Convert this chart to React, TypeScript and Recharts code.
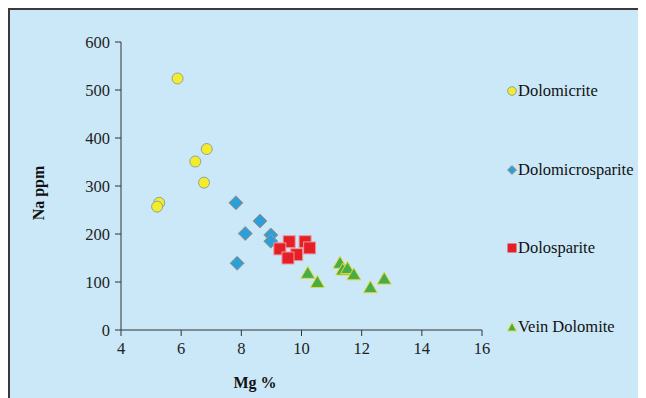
import React from 'react';
import { ScatterChart, Scatter, XAxis, YAxis, ZAxis } from 'recharts';

const dolomicriteMg = [5.88, 6.85, 6.47, 6.76, 5.27, 5.2];
const dolomicriteNa = [524, 377, 351, 307, 265, 257];

const microspariteMg = [7.82, 8.62, 8.13, 8.98, 8.98, 7.86];
const microspariteNa = [265, 227, 201, 198, 185, 139];

const dolospariteMg = [9.59, 10.12, 9.28, 10.27, 9.84, 9.55];
const dolospariteNa = [184, 184, 169, 171, 157, 150];

const veinMg = [11.28, 11.37, 11.53, 11.74, 10.21, 10.53, 12.29, 12.75];
const veinNa = [139, 125, 128, 115, 118, 99, 88, 106];

const xTicks = [4, 6, 8, 10, 12, 14, 16];
const yTicks = [0, 100, 200, 300, 400, 500, 600];

const toPoints = (mg: number[], na: number[]) => mg.map((m, i) => ({ mg: m, na: na[i] }));

const FONT = "'Liberation Serif', 'Times New Roman', Times, serif";

const circle = (fill: string, stroke: string) => (p: any) => (
  <circle cx={p.cx} cy={p.cy} r={5.5} fill={fill} stroke={stroke} strokeWidth={1} />
);
const diamond = (fill: string, stroke: string) => (p: any) => {
  const r = 7;
  return (
    <polygon
      points={`${p.cx},${p.cy - r} ${p.cx + r},${p.cy} ${p.cx},${p.cy + r} ${p.cx - r},${p.cy}`}
      fill={fill}
      stroke={stroke}
      strokeWidth={1}
    />
  );
};
const square = (fill: string, stroke: string) => (p: any) => (
  <rect x={p.cx - 6} y={p.cy - 6} width={12} height={12} fill={fill} stroke={stroke} strokeWidth={1} />
);
const triangle = (fill: string, stroke: string) => (p: any) => (
  <polygon
    points={`${p.cx},${p.cy - 7} ${p.cx + 7},${p.cy + 5} ${p.cx - 7},${p.cy + 5}`}
    fill={fill}
    stroke={stroke}
    strokeWidth={1}
  />
);

const series = [
  { name: 'Dolomicrite', data: toPoints(dolomicriteMg, dolomicriteNa), fill: '#f2ec2c', stroke: '#8fa39a', kind: 'circle' },
  { name: 'Dolomicrosparite', data: toPoints(microspariteMg, microspariteNa), fill: '#2b9fd8', stroke: '#b08f80', kind: 'diamond' },
  { name: 'Dolosparite', data: toPoints(dolospariteMg, dolospariteNa), fill: '#e61f26', stroke: '#e89aa0', kind: 'square' },
  { name: 'Vein Dolomite', data: toPoints(veinMg, veinNa), fill: '#47ad48', stroke: '#e8d83a', kind: 'triangle' },
];

const shapeFor = (s: any) => {
  if (s.kind === 'circle') return circle(s.fill, s.stroke);
  if (s.kind === 'diamond') return diamond(s.fill, s.stroke);
  if (s.kind === 'square') return square(s.fill, s.stroke);
  return triangle(s.fill, s.stroke);
};

const LegendMarker = ({ kind, fill, stroke }: any) => {
  let el;
  if (kind === 'circle') el = <circle cx={5} cy={5} r={4.3} fill={fill} stroke={stroke} />;
  else if (kind === 'diamond') el = <polygon points="5,0.5 9.5,5 5,9.5 0.5,5" fill={fill} stroke={stroke} />;
  else if (kind === 'square') el = <rect x={0.5} y={0.5} width={9} height={9} fill={fill} />;
  else el = <polygon points="5,0.5 9.5,9 0.5,9" fill={fill} stroke={stroke} />;
  return (
    <svg width={10} height={10} style={{ marginRight: 1 }}>
      {el}
    </svg>
  );
};

export default function App() {
  const tickStyle = { fontFamily: FONT, fontSize: 16.5, fill: '#222' };
  return (
    <div
      style={{
        position: 'relative',
        width: 638,
        height: 390,
        background: '#cbe8f8',
        borderTop: '2px solid #3a3a3a',
        borderLeft: '2px solid #3a3a3a',
        boxSizing: 'border-box',
      }}
    >
      <div style={{ position: 'absolute', left: -2, top: -2 }}>
        <ScatterChart width={638} height={390} margin={{ top: 34, right: 164, bottom: 38, left: 63 }}>
          <XAxis
            type="number"
            dataKey="mg"
            domain={[4, 16]}
            ticks={xTicks}
            interval={0}
            height={30}
            tickSize={6}
            tickMargin={6}
            stroke="#333"
            tick={tickStyle}
          />
          <YAxis
            type="number"
            dataKey="na"
            domain={[0, 600]}
            ticks={yTicks}
            interval={0}
            width={50}
            tickSize={6}
            tickMargin={5}
            stroke="#333"
            tick={tickStyle}
          />
          <ZAxis range={[100, 100]} />
          {series.map((s) => (
            <Scatter
              key={s.name}
              name={s.name}
              data={s.data}
              fill={s.fill}
              shape={shapeFor(s)}
              isAnimationActive={false}
            />
          ))}
        </ScatterChart>
      </div>
      <div
        style={{
          position: 'absolute',
          left: 497,
          top: 42,
          fontFamily: FONT,
          fontSize: 16.5,
          color: '#111',
        }}
      >
        {series.map((s) => (
          <div key={s.name} style={{ display: 'flex', alignItems: 'center', height: 78.5 }}>
            <LegendMarker kind={s.kind} fill={s.fill} stroke={s.stroke} />
            <span>{s.name}</span>
          </div>
        ))}
      </div>
      <div
        style={{
          position: 'absolute',
          left: -3,
          top: 173,
          width: 64,
          height: 20,
          lineHeight: '20px',
          textAlign: 'center',
          transform: 'rotate(-90deg)',
          fontFamily: FONT,
          fontWeight: 'bold',
          fontSize: 16,
          color: '#111',
          whiteSpace: 'nowrap',
        }}
      >
        Na ppm
      </div>
      <div
        style={{
          position: 'absolute',
          left: 215,
          top: 363,
          width: 60,
          height: 20,
          lineHeight: '20px',
          textAlign: 'center',
          fontFamily: FONT,
          fontWeight: 'bold',
          fontSize: 16,
          color: '#111',
          whiteSpace: 'nowrap',
        }}
      >
        Mg %
      </div>
    </div>
  );
}
